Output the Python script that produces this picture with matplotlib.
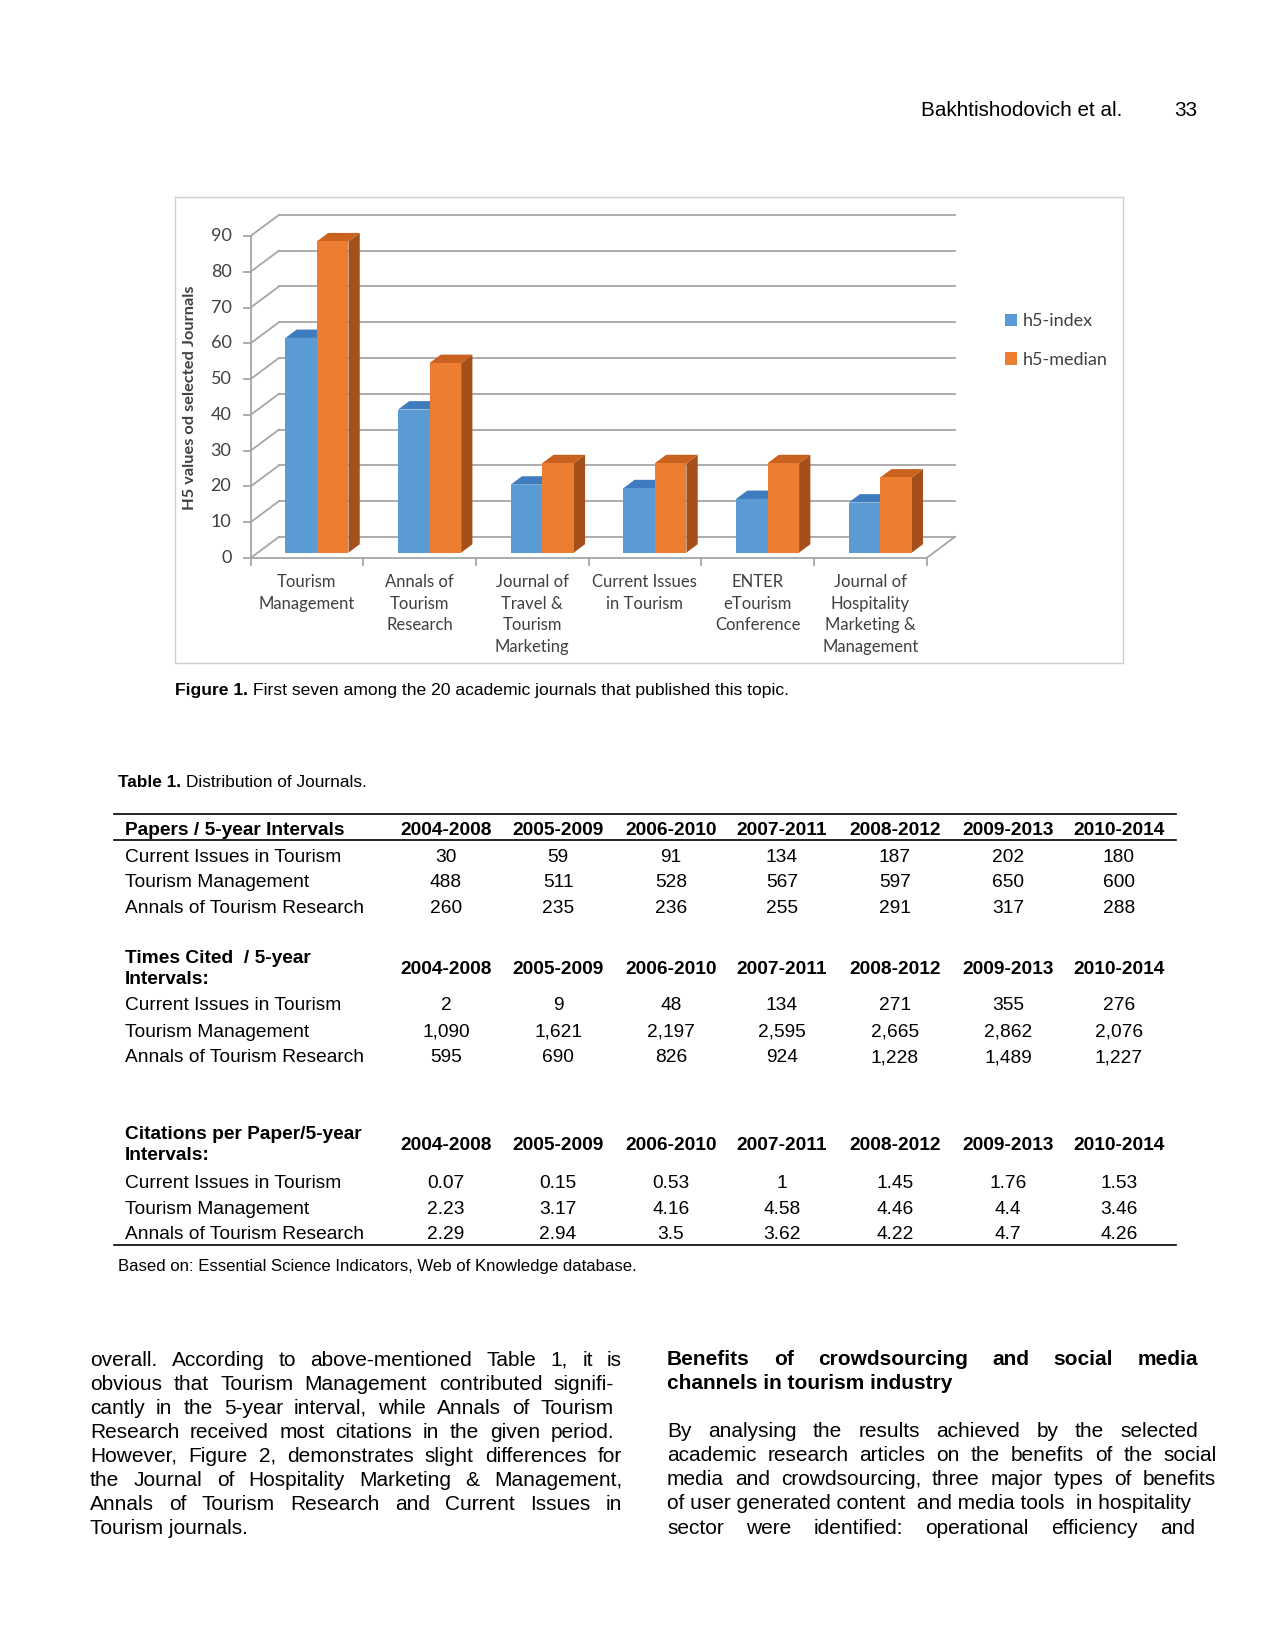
import matplotlib
matplotlib.use("Agg")
import matplotlib.pyplot as plt
from matplotlib.patches import Polygon, Patch

# --- data -------------------------------------------------------------
journals = ["Tourism\nManagement", "Annals of\nTourism\nResearch",
            "Journal of\nTravel &\nTourism\nMarketing", "Current Issues\nin Tourism",
            "ENTER\neTourism\nConference", "Journal of\nHospitality\nMarketing &\nManagement"]
h5_index = [60, 40, 19, 18, 15, 14]
h5_median = [87, 53, 25, 25, 25, 21]
y_ticks = list(range(0, 100, 10))

years = ["2004-2008", "2005-2009", "2006-2010", "2007-2011", "2008-2012", "2009-2013", "2010-2014"]
table_rows = ["Current Issues in Tourism", "Tourism Management", "Annals of Tourism Research"]
papers = [[30, 59, 91, 134, 187, 202, 180],
          [488, 511, 528, 567, 597, 650, 600],
          [260, 235, 236, 255, 291, 317, 288]]
times_cited = [[2, 9, 48, 134, 271, 355, 276],
               [1090, 1621, 2197, 2595, 2665, 2862, 2076],
               [595, 690, 826, 924, 1228, 1489, 1227]]
cit_per_paper = [[0.07, 0.15, 0.53, 1, 1.45, 1.76, 1.53],
                 [2.23, 3.17, 4.16, 4.58, 4.46, 4.4, 3.46],
                 [2.29, 2.94, 3.5, 3.62, 4.22, 4.7, 4.26]]

W, H = 1275, 1651
PAGE_FONT = ["Liberation Sans", "DejaVu Sans"]
CHART_FONT = ["Lato", "DejaVu Sans"]
plt.rcParams["font.family"] = PAGE_FONT

fig = plt.figure(figsize=(W / 100, H / 100), dpi=100)
fig.patch.set_facecolor("white")
renderer = fig.canvas.get_renderer()


def ptext(x, y, s, **kw):
    kw.setdefault("va", "center")
    return fig.text(x / W, 1 - y / H, s, **kw)


def width_of(t):
    return t.get_window_extent(renderer=renderer).width


def bold_lead(x, y, lead, rest, fs):
    t = ptext(x, y, lead, fontsize=fs, fontweight="bold")
    ptext(x + width_of(t) + fs * 0.38, y, rest, fontsize=fs)


def hline(x0, x1, y, lw=1.0):
    fig.add_artist(plt.Line2D([x0 / W, x1 / W], [1 - y / H] * 2, color="black", lw=lw))


# --- header -----------------------------------------------------------
ptext(1122, 110, "Bakhtishodovich et al.", ha="right", fontsize=14.9)
ptext(1197, 110, "33", ha="right", fontsize=14.9)

# --- chart (3D-look column chart drawn in data coords) -----------------
box_l, box_r, box_t, box_b = 175, 1123, 197, 663
x0_px, cat_px, y0_px, unit_px = 250.6, 112.65, 558.0, 3.578
ax = fig.add_axes([box_l / W, 1 - box_b / H, (box_r - box_l) / W, (box_b - box_t) / H])
ax.set_xlim((box_l - x0_px) / cat_px, (box_r - x0_px) / cat_px)
ax.set_ylim((y0_px - box_b) / unit_px, (y0_px - box_t) / unit_px)
ax.set_xticks([])
ax.set_yticks([])
for s in ax.spines.values():
    s.set_color("#cfcfcf")
    s.set_linewidth(1.0)

n = len(h5_index)
dx, dy = 0.252, 5.9
grid_c = "#a6a6a6"
for v in y_ticks:
    ax.plot([dx, n + dx], [v + dy, v + dy], color=grid_c, lw=1.3, zorder=1)
    ax.plot([0, dx], [v, v + dy], color=grid_c, lw=1.3, zorder=1)
    ax.plot([-0.06, 0], [v, v], color=grid_c, lw=1.3, zorder=1)
ax.plot([0, n, n + dx], [0, 0, dy], color=grid_c, lw=1.3, zorder=1)
ax.plot([0, 0], [0, y_ticks[-1]], color=grid_c, lw=1.3, zorder=1)
for i in range(n + 1):
    ax.plot([i, i], [0, -2], color=grid_c, lw=1.3, zorder=1)

fx, fy = 0.064, 1.5
bx, by = 0.164, 3.85
bw = 0.28


def bar3d(x0, h, front, top, side):
    ax.add_patch(Polygon([(x0 + bw + fx, fy), (x0 + bw + bx, by), (x0 + bw + bx, h + by),
                          (x0 + bw + fx, h + fy)], closed=True, fc=side, ec="none", zorder=3))
    ax.add_patch(Polygon([(x0 + fx, h + fy), (x0 + bw + fx, h + fy), (x0 + bw + bx, h + by),
                          (x0 + bx, h + by)], closed=True, fc=top, ec="none", zorder=3))
    ax.add_patch(Polygon([(x0 + fx, fy), (x0 + bw + fx, fy), (x0 + bw + fx, h + fy),
                          (x0 + fx, h + fy)], closed=True, fc=front, ec="none", zorder=3))


for i in range(n):
    bar3d(i + 0.245, h5_index[i], "#5b9bd5", "#3f7cbf", "#3a6ea5")
    bar3d(i + 0.245 + bw, h5_median[i], "#ed7d31", "#c9621f", "#a5501a")

for v in y_ticks:
    ax.text(-0.17, v, str(v), ha="right", va="center", fontsize=13, color="#404040",
            family=CHART_FONT)
for i, lab in enumerate(journals):
    ax.text(i + 0.5, -4.6, lab, ha="center", va="top", fontsize=12, color="#404040",
            family=CHART_FONT, linespacing=1.42)
ax.text(-0.54, 44.7, "H5 values od selected Journals", rotation=90, ha="center", va="center",
        fontsize=11.8, fontweight="bold", color="#404040", family=CHART_FONT)

handles = [Patch(fc="#5b9bd5", ec="none"), Patch(fc="#ed7d31", ec="none")]
ax.legend(handles, ["h5-index", "h5-median"], loc="upper left", bbox_to_anchor=(0.858, 0.785),
          frameon=False, handlelength=0.7, handleheight=0.7, handletextpad=0.3,
          labelspacing=1.25, prop={"family": CHART_FONT, "size": 13}, labelcolor="#404040")

# --- caption ------------------------------------------------------------
bold_lead(175, 691, "Figure 1.", "First seven among the 20 academic journals that published this topic.",
          12.6)

# --- table ----------------------------------------------------------------
bold_lead(118, 782, "Table 1.", "Distribution of Journals.", 12.4)

col_x = [446, 558, 671, 782, 895, 1008, 1119]
tab_fs = 13.8
hline(114, 1176, 814, lw=1.2)
hline(114, 1176, 840, lw=1.2)

blocks = [
    (["Papers / 5-year Intervals"], 830, papers, [857, 882, 908], lambda v: f"{v:,}"),
    (["Times Cited  / 5-year", "Intervals:"], 969, times_cited, [1005, 1032, 1058],
     lambda v: f"{v:,}"),
    (["Citations per Paper/5-year", "Intervals:"], 1145, cit_per_paper, [1183, 1209, 1234],
     lambda v: f"{v:g}"),
]
for head, hy, vals, rows_y, fmt in blocks:
    if len(head) == 1:
        ptext(125, hy, head[0], fontsize=tab_fs, fontweight="bold")
    else:
        ptext(125, hy - 10.5, head[0], fontsize=tab_fs, fontweight="bold")
        ptext(125, hy + 10.5, head[1], fontsize=tab_fs, fontweight="bold")
    for cx, yr in zip(col_x, years):
        ptext(cx, hy, yr, ha="center", fontsize=tab_fs, fontweight="bold")
    for name, row, ry in zip(table_rows, vals, rows_y):
        ptext(125, ry, name, fontsize=tab_fs)
        for cx, v in zip(col_x, row):
            ptext(cx, ry, fmt(v), ha="center", fontsize=tab_fs)

hline(114, 1176, 1245, lw=1.2)
ptext(118, 1266, "Based on: Essential Science Indicators, Web of Knowledge database.", fontsize=12.1)

# --- body text -------------------------------------------------------------


def justify(x0, x1, y, line, **kw):
    if x1 is None:
        ptext(x0, y, line, **kw)
        return
    words = line.split()
    ts = [ptext(0, y, w, **kw) for w in words]
    ws = [width_of(t) for t in ts]
    gap = (x1 - x0 - sum(ws)) / max(len(words) - 1, 1)
    x = x0
    for t, w in zip(ts, ws):
        t.set_x(x / W)
        x += w + gap


body_fs = 15
left_lines = [
    ("overall. According to above-mentioned Table 1, it is", 622),
    ("obvious that Tourism Management contributed signifi-", 614),
    ("cantly in the 5-year interval, while Annals of Tourism", 614),
    ("Research received most citations in the given period.", 614),
    ("However, Figure 2, demonstrates slight differences for", 622),
    ("the Journal of Hospitality Marketing & Management,", 622),
    ("Annals of Tourism Research and Current Issues in", 622),
    ("Tourism journals.", None),
]
left_y = [1360, 1384, 1408, 1432, 1456, 1480, 1504, 1528]
for (line, x1), y in zip(left_lines, left_y):
    justify(90, x1, y, line, fontsize=body_fs)

justify(667, 1198, 1359, "Benefits of crowdsourcing and social media", fontsize=body_fs,
        fontweight="bold")
justify(667, None, 1383, "channels in tourism industry", fontsize=body_fs, fontweight="bold")
right_lines = [
    ("By analysing the results achieved by the selected", 1198),
    ("academic research articles on the benefits of the social", 1217),
    ("media and crowdsourcing, three major types of benefits", 1216),
    ("of user generated content  and media tools  in hospitality", None),
    ("sector were identified: operational efficiency and", 1195),
]
right_y = [1431, 1455, 1479, 1503, 1528]
for (line, x1), y in zip(right_lines, right_y):
    justify(667, x1, y, line, fontsize=body_fs)

fig.savefig("out.png", dpi=100, facecolor="white")
